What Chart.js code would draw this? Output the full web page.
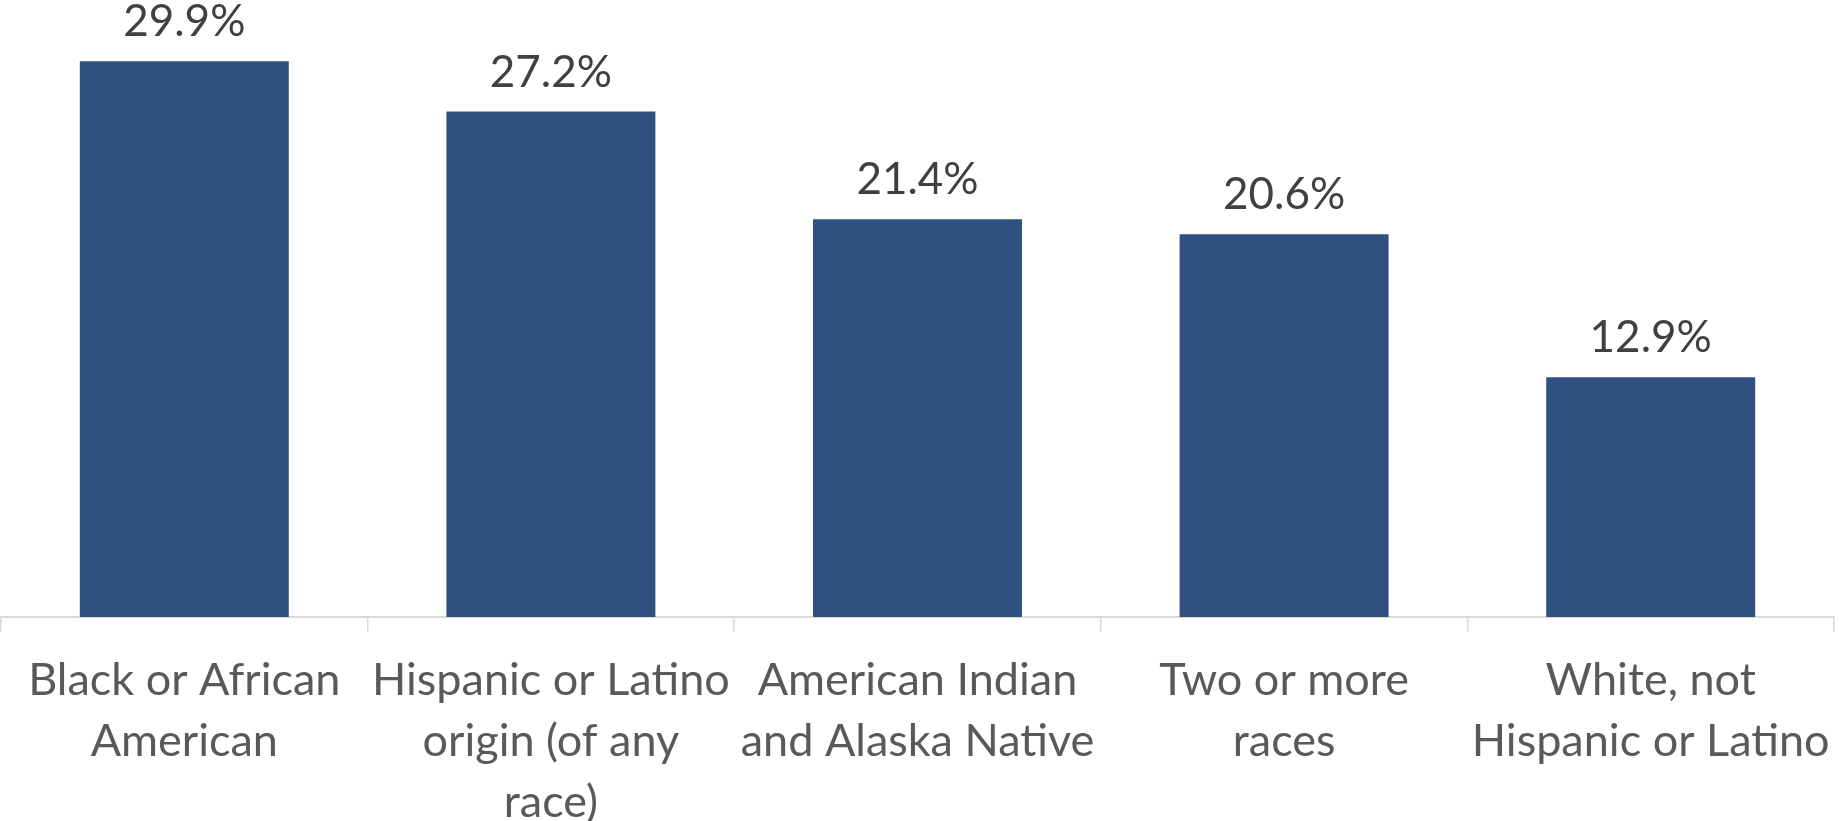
<!DOCTYPE html>
<html>
<head>
<meta charset="utf-8">
<script src="https://cdn.jsdelivr.net/npm/chart.js@4"></script>
<style>
html,body{margin:0;padding:0;background:#fff;}
#c{display:block;}
</style>
</head>
<body>
<canvas id="c" width="1839" height="821"></canvas>
<script>
const categories = [
  ["Black or African", "American"],
  ["Hispanic or Latino", "origin (of any", "race)"],
  ["American Indian", "and Alaska Native"],
  ["Two or more", "races"],
  ["White, not", "Hispanic or Latino"]
];
const values = [29.9, 27.2, 21.4, 20.6, 12.9];
const valueLabels = ["29.9%", "27.2%", "21.4%", "20.6%", "12.9%"];

const FONT = "Lato, 'Open Sans', sans-serif";

const barLabels = {
  id: 'barLabels',
  afterDatasetsDraw(chart) {
    const ctx = chart.ctx;
    const meta = chart.getDatasetMeta(0);
    ctx.save();
    ctx.font = "44px " + FONT;
    ctx.fillStyle = "#404040";
    ctx.textAlign = "center";
    ctx.textBaseline = "alphabetic";
    meta.data.forEach((bar, i) => {
      ctx.fillText(valueLabels[i], bar.x, bar.y - 25);
    });
    ctx.restore();
  }
};

new Chart(document.getElementById('c'), {
  type: 'bar',
  data: {
    labels: categories,
    datasets: [{
      data: values,
      backgroundColor: '#2F5080',
      borderWidth: 0,
      barPercentage: 0.57,
      categoryPercentage: 1.0
    }]
  },
  options: {
    responsive: false,
    animation: false,
    layout: { padding: { left: 1, right: 5, top: 0, bottom: 0 } },
    plugins: { legend: { display: false }, tooltip: { enabled: false } },
    scales: {
      y: { display: false, min: 0, max: 33.2 },
      x: {
        afterFit(axis) { axis.height = 204; axis.paddingLeft = 0; axis.paddingRight = 0; },
        grid: { offset: true, drawOnChartArea: false, tickLength: 15, color: '#D9D9D9', lineWidth: 1.5 },
        border: { color: '#D9D9D9', width: 2 },
        ticks: {
          color: '#595959',
          font: { family: FONT, size: 45, lineHeight: '61px' },
          padding: 18,
          maxRotation: 0,
          autoSkip: false
        }
      }
    }
  },
  plugins: [barLabels]
});
</script>
</body>
</html>
